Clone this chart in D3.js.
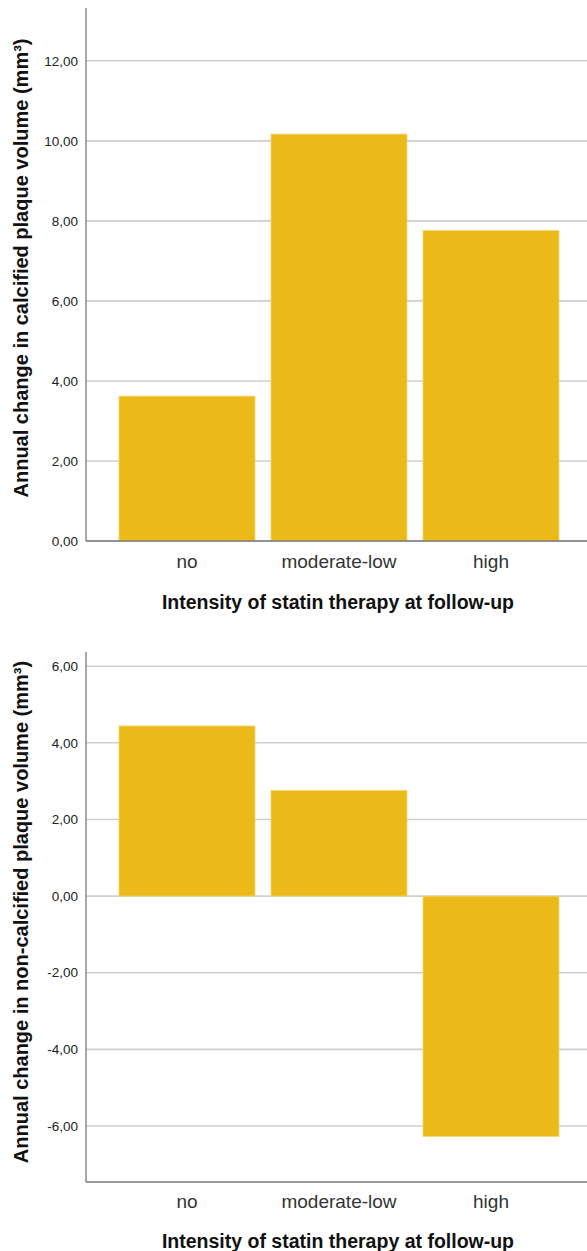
<!DOCTYPE html>
<html>
<head>
<meta charset="utf-8">
<script src="https://cdn.jsdelivr.net/npm/d3@7"></script>
<style>
  body { margin: 0; background: #fff; }
  svg { display: block; font-family: "Liberation Sans", Arial, sans-serif; }
</style>
</head>
<body>
<svg id="chart" width="587" height="1251"></svg>
<script>
// categories + values
let categories = ["no", "moderate-low", "high"];
let calcifiedValues = [3.62, 10.17, 7.76];
let nonCalcifiedValues = [4.44, 2.76, -6.27];
let calcifiedTicks = [0, 2, 4, 6, 8, 10, 12];
let nonCalcifiedTicks = [-6, -4, -2, 0, 2, 4, 6];
let xTitle = "Intensity of statin therapy at follow-up";
let yTitles = ["Annual change in calcified plaque volume (mm³)", "Annual change in non-calcified plaque volume (mm³)"];

let barColor = "#ebb918";
let gridColor = "#cfcfcf";
let axisColor = "#7a7a7a";
// SPSS style: comma decimals, plain hyphen for minus
let fmt = d => d3.format(".2f")(d).replace(".", ",").replace("\u2212", "-");

let svg = d3.select("#chart");

function drawPanel(opts) {
  let g = svg.append("g");

  let x = d3.scaleBand()
    .domain(categories)
    .range([86, 592])
    .paddingInner(0.105)
    .paddingOuter(0.217);

  let y = d3.scaleLinear()
    .domain(opts.domain)
    .range([opts.bottom, opts.top]);

  // gridlines
  g.selectAll(".grid")
    .data(opts.ticks)
    .join("line")
    .attr("class", "grid")
    .attr("x1", 86)
    .attr("x2", 587)
    .attr("y1", d => y(d))
    .attr("y2", d => y(d))
    .attr("stroke", gridColor)
    .attr("stroke-width", 1.6);

  // bars
  g.selectAll(".bar")
    .data(opts.values)
    .join("rect")
    .attr("class", "bar")
    .attr("x", (d, i) => x(categories[i]))
    .attr("width", x.bandwidth())
    .attr("y", d => y(Math.max(0, d)))
    .attr("height", d => Math.abs(y(d) - y(0)))
    .attr("fill", barColor)
    .attr("stroke", "#f3d978")
    .attr("stroke-width", 0.8);

  // axes lines
  g.append("line")
    .attr("x1", 86).attr("x2", 86)
    .attr("y1", opts.top).attr("y2", opts.bottom)
    .attr("stroke", axisColor).attr("stroke-width", 1.3);
  g.append("line")
    .attr("x1", 86).attr("x2", 587)
    .attr("y1", opts.bottom).attr("y2", opts.bottom)
    .attr("stroke", axisColor).attr("stroke-width", 1.3);

  // tick labels
  g.selectAll(".ticklabel")
    .data(opts.ticks)
    .join("text")
    .attr("class", "ticklabel")
    .attr("x", 78)
    .attr("y", d => y(d))
    .attr("dy", "0.35em")
    .attr("text-anchor", "end")
    .attr("font-size", 13.5)
    .attr("fill", "#222")
    .text(fmt);

  // category labels
  g.selectAll(".catlabel")
    .data(categories)
    .join("text")
    .attr("class", "catlabel")
    .attr("x", d => x(d) + x.bandwidth() / 2)
    .attr("y", opts.catY)
    .attr("dy", "0.35em")
    .attr("text-anchor", "middle")
    .attr("font-size", 19)
    .attr("fill", "#333")
    .text(d => d);

  // x title
  g.append("text")
    .attr("x", 338)
    .attr("y", opts.titleY)
    .attr("dy", "0.35em")
    .attr("text-anchor", "middle")
    .attr("font-size", 19.5)
    .attr("font-weight", "bold")
    .attr("fill", "#111")
    .text(xTitle);

  // y title
  g.append("text")
    .attr("transform", `translate(21,${opts.yTitleY}) rotate(-90)`)
    .attr("dy", "0.35em")
    .attr("text-anchor", "middle")
    .attr("font-size", 20)
    .attr("font-weight", "bold")
    .attr("fill", "#111")
    .text(opts.yTitle);
}

drawPanel({
  values: calcifiedValues,
  ticks: calcifiedTicks,
  domain: [0, 13.32],
  top: 8,
  bottom: 541,
  catY: 561,
  titleY: 602,
  yTitleY: 268,
  yTitle: yTitles[0]
});

drawPanel({
  values: nonCalcifiedValues,
  ticks: nonCalcifiedTicks,
  domain: [-7.46, 6.37],
  top: 652,
  bottom: 1182,
  catY: 1201,
  titleY: 1241,
  yTitleY: 912,
  yTitle: yTitles[1]
});
</script>
</body>
</html>
